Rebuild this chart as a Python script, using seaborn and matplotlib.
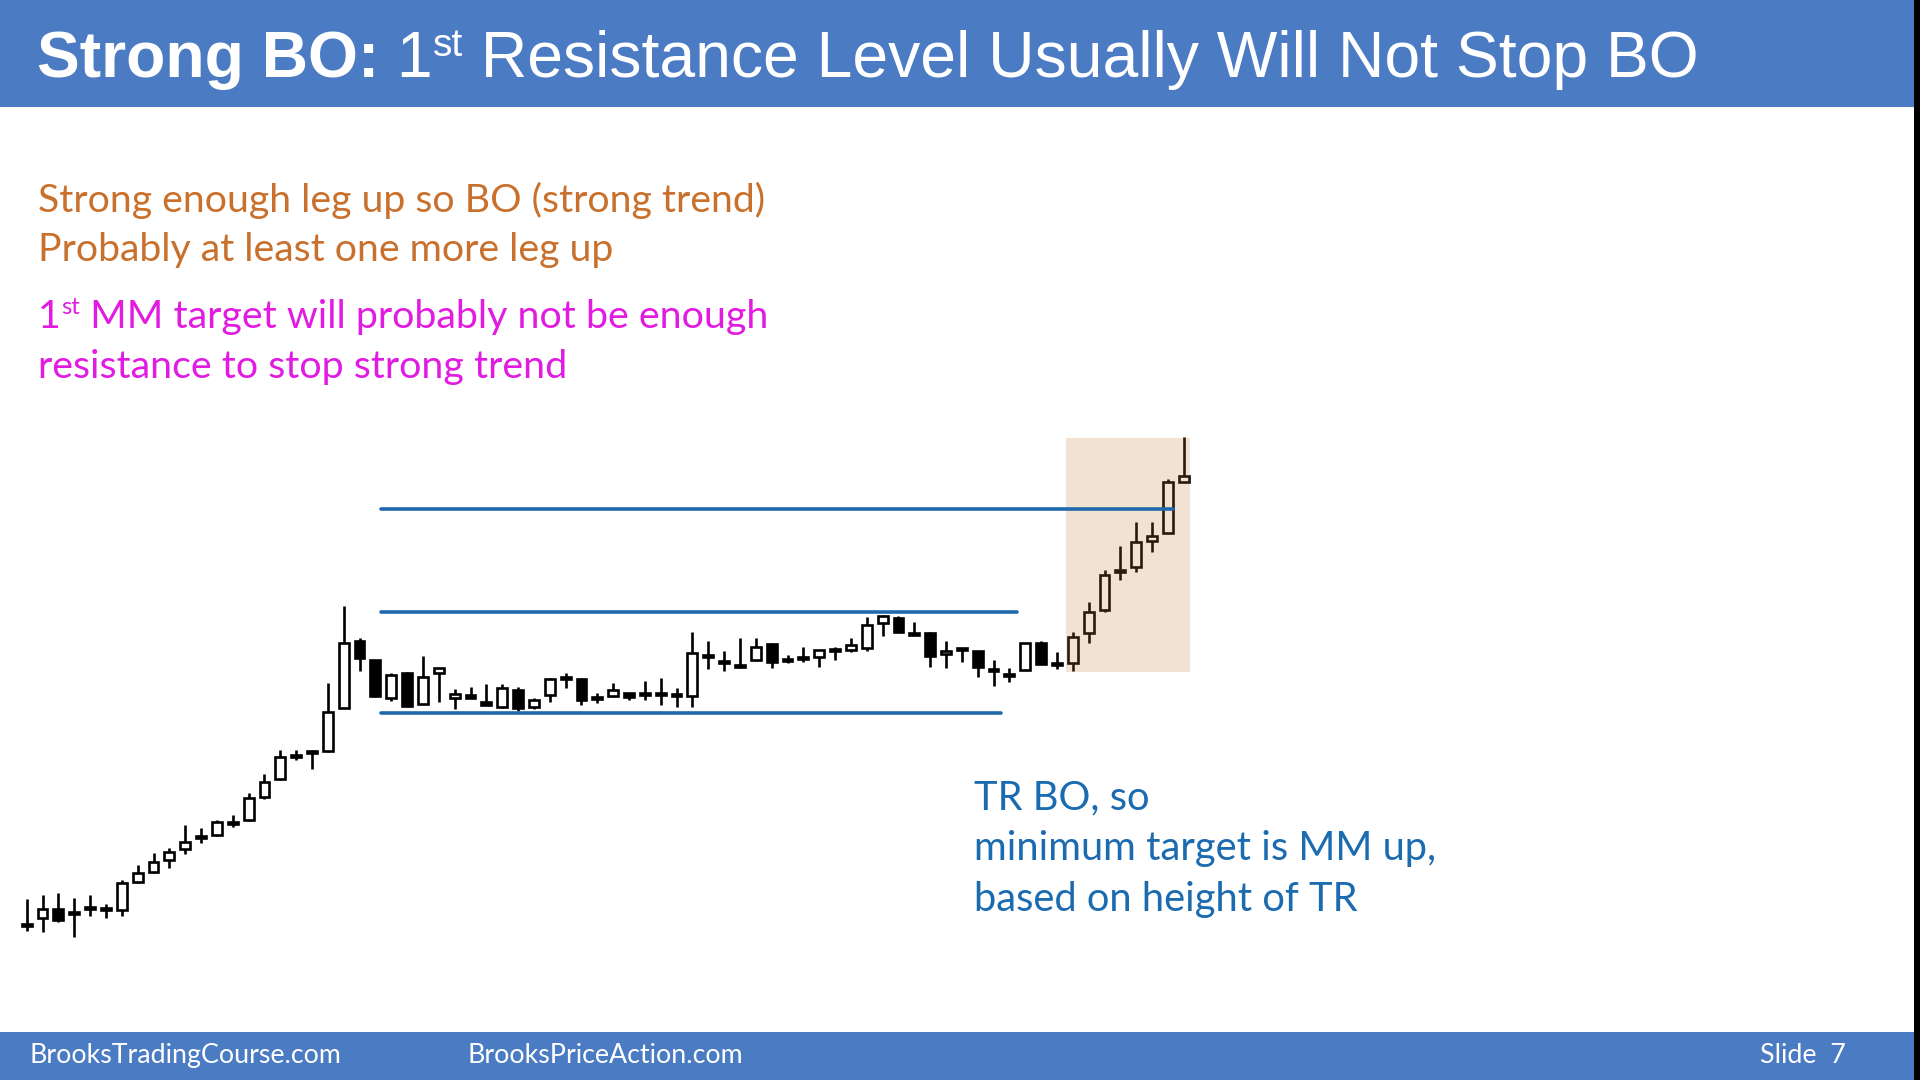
import matplotlib
matplotlib.use("Agg")
import matplotlib.pyplot as plt
from matplotlib.patches import Rectangle
import numpy as np
import pandas as pd
import seaborn as sns

# ---- candle data (price units, bar index 0..73) ----
opens = [155, 162, 171, 167, 172, 171, 170, 198, 208, 220, 231, 243, 245, 257, 260, 283, 301, 324, 328, 329,
         372, 439, 420, 382, 407, 376, 407, 382, 385, 378, 373, 390, 373, 385, 402, 401, 382, 384, 387, 386,
         386, 385, 384, 424, 418, 414, 420, 436, 420, 422, 423, 430, 430, 432, 457, 462, 446, 447, 426, 431,
         429, 410, 405, 410, 437, 416, 417, 447, 470, 509, 513, 539, 547, 598]
highs = [181, 185, 187, 182, 185, 176, 200, 215, 227, 232, 255, 252, 260, 265, 287, 306, 330, 330, 330, 397,
         474, 442, 420, 407, 408, 424, 412, 391, 393, 396, 396, 393, 382, 402, 407, 402, 387, 397, 387, 399,
         402, 392, 448, 439, 429, 442, 442, 437, 425, 433, 430, 433, 442, 463, 465, 464, 458, 448, 439, 432,
         429, 420, 412, 437, 439, 428, 448, 478, 510, 534, 558, 558, 601, 643]
lows = [149, 148, 158, 143, 164, 162, 164, 197, 207, 212, 226, 237, 244, 253, 259, 281, 300, 320, 311, 328,
        372, 409, 383, 379, 373, 376, 378, 371, 382, 375, 372, 369, 371, 378, 392, 375, 377, 383, 380, 380,
        375, 373, 373, 411, 409, 412, 419, 412, 417, 418, 413, 420, 428, 429, 444, 448, 445, 413, 412, 418,
        403, 394, 398, 410, 416, 411, 409, 437, 468, 500, 508, 528, 547, 598]
closes = [155, 171, 160, 167, 172, 171, 197, 207, 218, 228, 238, 243, 258, 257, 282, 298, 323, 324, 328, 368,
          437, 422, 384, 405, 374, 403, 412, 386, 382, 375, 392, 372, 380, 401, 402, 380, 382, 390, 383, 386,
          386, 385, 427, 424, 418, 414, 433, 418, 420, 422, 430, 430, 435, 455, 464, 448, 446, 424, 429, 431,
          413, 410, 405, 437, 416, 416, 443, 468, 505, 509, 538, 544, 598, 604]

# trading range / measured move levels
level_names = ["MM target", "TR top", "TR bottom"]
level_prices = [571, 468, 367]
level_start = [22.35, 22.35, 22.35]
level_end = [72.3, 62.5, 61.5]

# breakout highlight (bar index span, price span)
box_bars = (65.6, 73.4)
box_prices = (408, 642)

title_bold = "Strong BO:"
title_rest = "Resistance Level Usually Will Not Stop BO"
orange_lines = ["Strong enough leg up so BO (strong trend)", "Probably at least one more leg up"]
magenta_lines = ["MM target will probably not be enough", "resistance to stop strong trend"]
blue_lines = ["TR BO, so", "minimum target is MM up,", "based on height of TR"]
footer_left = ["BrooksTradingCourse.com", "BrooksPriceAction.com"]
footer_right = "Slide  7"

HEADER = "#4A7BC3"
ORANGE = "#C8702C"
MAGENTA = "#E21BE2"
BLUE_TXT = "#1B6BB0"
LEVEL = "#1F69AC"

sns.set_theme(style="white")
plt.rcParams["font.family"] = ["Lato", "DejaVu Sans"]

W, H = 1920, 1080
fig = plt.figure(figsize=(W / 100, H / 100), dpi=100)
fig.patch.set_facecolor("white")

# chart axes: bar index on x, price on y, spanning the whole slide
ax = fig.add_axes([0, 0, 1, 1])
x0, step = 26.7, 15.85
ax.set_xlim(-x0 / step, (W - x0) / step)
ax.set_ylim(0, H)
ax.axis("off")

df = pd.DataFrame({"o": opens, "h": highs, "l": lows, "c": closes})
df["i"] = np.arange(len(df))
ax.vlines(df["i"], df["l"], df["h"], color="black", lw=1.9, zorder=2)

bw = 0.62
doji = df["o"] == df["c"]
bull = (df["c"] > df["o"]) & ~doji
bear = (df["c"] < df["o"]) & ~doji
ax.bar(df["i"][bull], (df["c"] - df["o"])[bull], bottom=df["o"][bull], width=bw,
       color="white", edgecolor="black", lw=1.9, zorder=3)
ax.bar(df["i"][bear], (df["o"] - df["c"])[bear], bottom=df["c"][bear], width=bw,
       color="black", edgecolor="black", lw=1.9, zorder=3)
ax.bar(df["i"][doji], 2.0, bottom=df["o"][doji] - 1.0, width=bw,
       color="black", edgecolor="black", lw=1.9, zorder=3)

ax.add_patch(Rectangle((box_bars[0], box_prices[0]), box_bars[1] - box_bars[0],
                       box_prices[1] - box_prices[0], facecolor="#C47B32", alpha=0.22,
                       edgecolor="none", zorder=4))

for name, p, s, e in zip(level_names, level_prices, level_start, level_end):
    sns.lineplot(x=[s, e], y=[p, p], ax=ax, color=LEVEL, lw=2.6, zorder=5)

# overlay axes in pixel coordinates for slide furniture and text
ov = fig.add_axes([0, 0, 1, 1], facecolor="none")
ov.set_xlim(0, W)
ov.set_ylim(H, 0)
ov.axis("off")
ov.add_patch(Rectangle((0, 0), W, 107, facecolor=HEADER, edgecolor="none"))
ov.add_patch(Rectangle((0, 1032), W, 48, facecolor=HEADER, edgecolor="none"))
ov.add_patch(Rectangle((1914, 0), 6, H, facecolor="black", edgecolor="none"))

renderer = fig.canvas.get_renderer()


def draw_runs(x, y, runs, color, family):
    # runs: (text, size, weight, raise_px); placed left to right on one baseline
    for txt, size, weight, rise in runs:
        t = ov.text(x, y - rise, txt, fontsize=size, fontweight=weight, color=color,
                    family=family, va="baseline", ha="left")
        x += t.get_window_extent(renderer).width


arial = ["Liberation Sans", "DejaVu Sans"]
draw_runs(37, 77, [(title_bold, 46.3, "bold", 0), (" 1", 46.3, "normal", 0),
                   ("st", 28, "normal", 21), (" " + title_rest, 46.3, "normal", 0)], "white", arial)

body = ["Lato", "DejaVu Sans"]
for k, line in enumerate(orange_lines):
    draw_runs(38, 212 + 49 * k, [(line, 28.3, "normal", 0)], ORANGE, body)
draw_runs(38, 328, [("1", 28.4, "normal", 0), ("st", 17, "normal", 14),
                    (" " + magenta_lines[0], 28.4, "normal", 0)], MAGENTA, body)
draw_runs(38, 378, [(magenta_lines[1], 28.4, "normal", 0)], MAGENTA, body)
for k, line in enumerate(blue_lines):
    draw_runs(974, 809 + 51 * k, [(line, 28.7, "normal", 0)], BLUE_TXT, body)

draw_runs(29, 1063, [(footer_left[0], 19.3, "normal", 0)], "white", body)
draw_runs(468, 1063, [(footer_left[1], 19.3, "normal", 0)], "white", body)
draw_runs(1760, 1063, [(footer_right, 19.3, "normal", 0)], "white", body)

fig.savefig("out.png", dpi=100)
